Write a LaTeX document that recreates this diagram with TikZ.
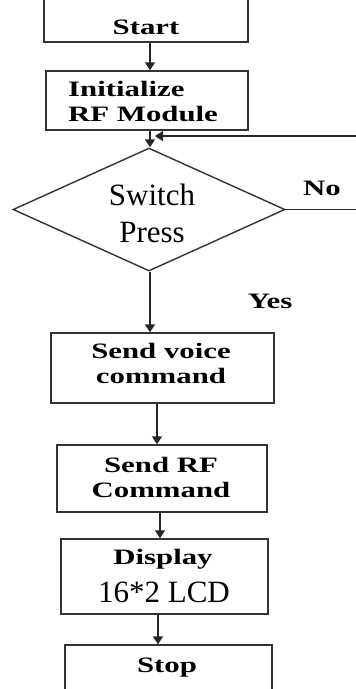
\documentclass[tikz,border=0pt]{standalone}
\usepackage{fontspec}
\setmainfont{Liberation Serif}
\newfontfamily\widefont[FakeStretch=1.4]{Liberation Serif}
\usetikzlibrary{shapes.geometric,arrows.meta}
\begin{document}
\begin{tikzpicture}[x=1pt,y=-1pt,
  box/.style={draw=black!80, line width=1.4pt, rectangle, inner sep=0pt},
  lbl/.style={font=\widefont\bfseries\fontsize{22}{25}\selectfont, inner sep=0pt, align=center},
  big/.style={font=\fontsize{31}{37}\selectfont, inner sep=0pt, align=center},
  ln/.style={draw=black!85, line width=1.4pt},
  arr/.style={ln, -{Triangle[width=10pt,length=8pt]}}]
\useasboundingbox (0,0) rectangle (356,689);
% boxes
\node[box, minimum width=204pt, minimum height=52pt] (start) at (146,16) {};
\node[box, minimum width=202pt, minimum height=59pt] (init) at (147,100.5) {};
\node[box, diamond, minimum width=272pt, minimum height=123pt] (dia) at (149,209.5) {};
\node[box, minimum width=223pt, minimum height=70pt] (voice) at (162.5,368) {};
\node[box, minimum width=210pt, minimum height=67pt] (rf) at (162,478.5) {};
\node[box, minimum width=207pt, minimum height=75pt] (disp) at (164.5,576.5) {};
\node[box, minimum width=207pt, minimum height=55pt] (stop) at (168.5,672.5) {};
% texts
\node[lbl, anchor=base] (startT) at (146,34) {Start};
\node[lbl, align=left, anchor=west] (initT) at (68,101) {Initialize\\RF Module};
\node[big] (diaT) at (152,213) {Switch\\Press};
\node[lbl, anchor=base] (no) at (322,195) {No};
\node[lbl, anchor=base] (yes) at (270,308) {Yes};
\node[lbl] (voiceT) at (161,363) {Send voice\\command};
\node[lbl] (rfT) at (161,477) {Send RF\\Command};
\node[lbl, anchor=base] (dispT1) at (163,564) {Display};
\node[big, anchor=base] (dispT2) at (164,602) {16*2 LCD};
\node[lbl, anchor=base] (stopT) at (167,672) {Stop};
% connectors
\coordinate (fbR) at (356,136);
\coordinate (merge) at (150,136);
\coordinate (noR) at (356,209.5);
\draw[arr] ([xshift=4pt]start.south) -- ([xshift=3pt]init.north);
\draw[arr] ([xshift=3pt]init.south) -- ([xshift=1pt]dia.north);
\draw[arr] (fbR) -- ([xshift=5pt]merge);
\draw[ln] (dia.east) -- (noR);
\draw[arr] ([xshift=1pt]dia.south) -- ([xshift=-12.5pt]voice.north);
\draw[arr] ([xshift=-5.5pt]voice.south) -- ([xshift=-5pt]rf.north);
\draw[arr] ([xshift=-2pt]rf.south) -- ([xshift=-4.5pt]disp.north);
\draw[arr] ([xshift=-6.5pt]disp.south) -- ([xshift=-10.5pt]stop.north);
\end{tikzpicture}
\end{document}
